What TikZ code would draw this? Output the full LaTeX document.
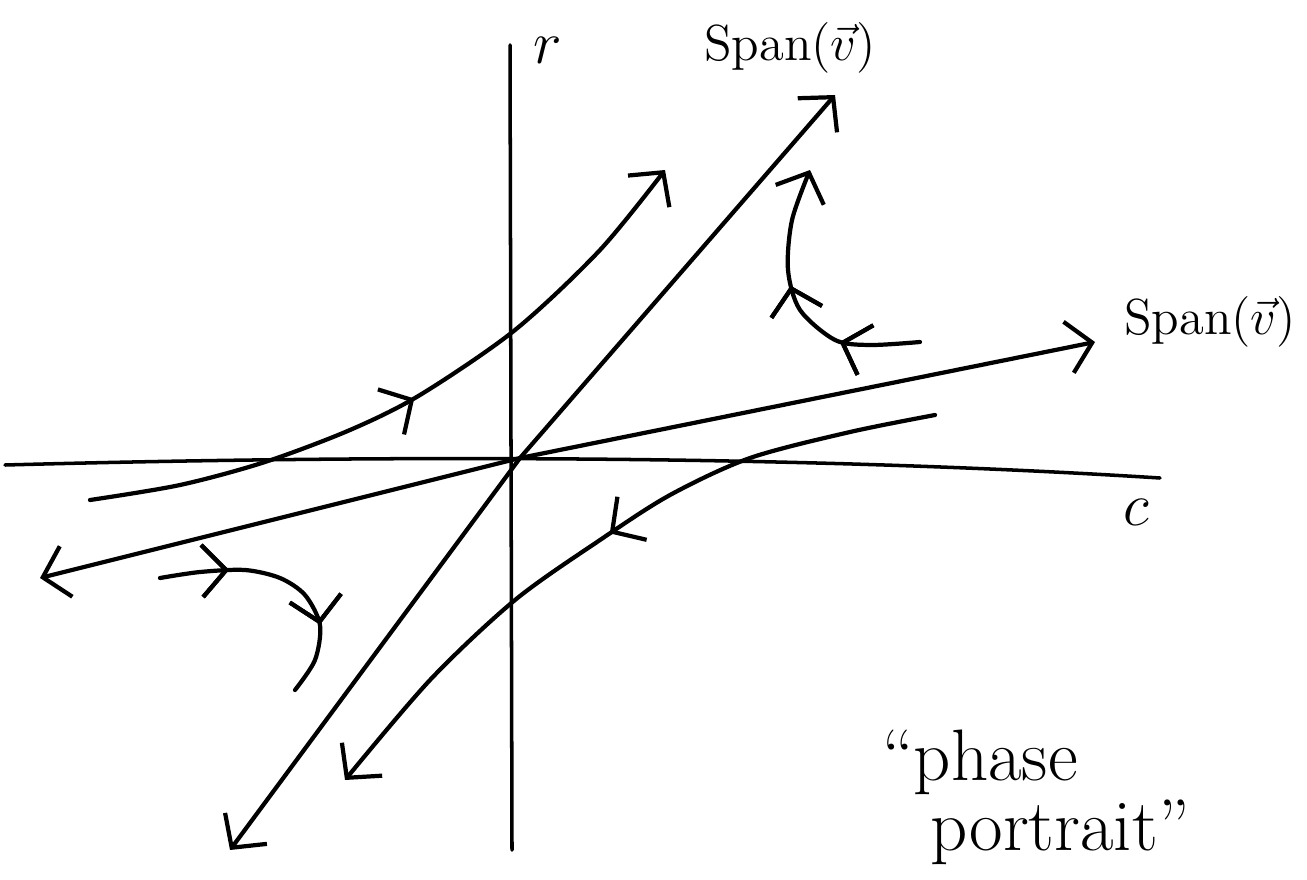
\documentclass[tikz,border=0pt]{standalone}
\usetikzlibrary{arrows.meta,decorations.markings}
\tikzset{every picture/.style={line width=1.2pt}}
\tikzset{
  ponta/.tip={Straight Barb[length=2.4mm,width=5.2mm]},
  meio/.style={postaction={decorate},
    decoration={markings,mark=at position #1 with {\arrow{ponta}}}},
}

\begin{document}
\begin{tikzpicture}[x=0.01cm, y=-0.01cm, line cap=round, line join=round]
        \useasboundingbox (0,0) rectangle (1307,879);
        \coordinate (O) at (520,458);
        % eixos c e r (sem setas)
        \draw[line width=1pt] (5,465) .. controls (300,457) and (750,452) .. (1160,478);
        \draw[line width=1pt] (510,45) -- (512,850);
        \node (r) at (548,50) {\LARGE $r$};
        \node (c) at (1136,512) {\LARGE $c$};
        % autoespacos
        \draw[ponta-ponta] (230,850) -- (O) -- (835,95);
        \draw[ponta-ponta] (40,578) -- (O) -- (1095,342);
        \node (span2) at (790,48) {\Large Span$(\vec{v})$};
        \node (span1) at (1210,322) {\Large Span$(\vec{v})$};
        % trajetorias
        \draw[-ponta, meio=0.5] plot[smooth] coordinates
            {(90,500) (180,485) (265,462) (350,430) (420,395) (515,330) (600,250) (665,170)};
        \draw[-ponta, meio=0.49] plot[smooth] coordinates
            {(935,415) (850,432) (750,458) (670,495) (600,540) (515,600) (430,680) (345,780)};
        \draw[-ponta, meio=0.29, meio=0.57] plot[smooth] coordinates
            {(920,342) (870,345) (835,340) (800,310) (788,270) (792,220) (810,170)};
        \draw[meio=0.27, meio=0.72] plot[smooth] coordinates
            {(160,578) (200,572) (245,570) (280,578) (305,595) (320,625) (315,660) (295,690)};
        % legenda
        \node (frase1) at (980,762) {\huge ``phase};
        \node (frase2) at (1060,832) {\huge portrait''};
\end{tikzpicture}
\end{document}
